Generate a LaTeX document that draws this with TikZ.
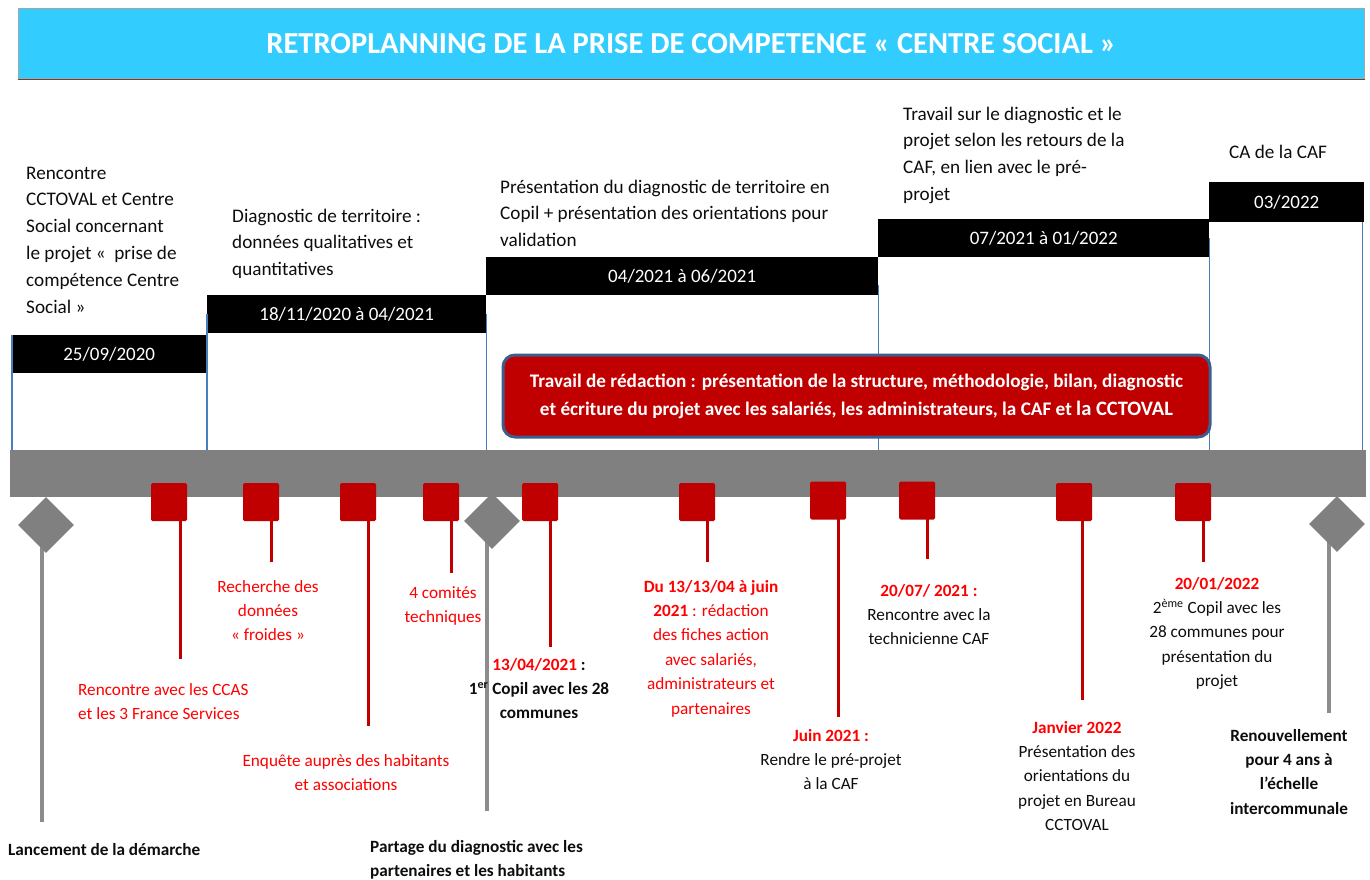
\documentclass[tikz,border=0pt]{standalone}
\usepackage{fontspec}
\setmainfont{Carlito}
\usetikzlibrary{shapes.geometric}
\definecolor{cyanhdr}{HTML}{33CCFF}
\definecolor{darkred}{HTML}{C00000}
\definecolor{brightred}{HTML}{FF0000}
\definecolor{bargray}{HTML}{808080}
\definecolor{stemgray}{HTML}{8C8C8C}
\definecolor{lineblue}{HTML}{4A7EBB}
\definecolor{boxborder}{HTML}{3B5E8C}
\definecolor{txt}{HTML}{0D0D0D}
\begin{document}
\begin{tikzpicture}[x=1pt,y=-1pt,
 toptxt/.style={font=\fontsize{19.2}{26.8}\selectfont, text=txt, align=left, anchor=base west, inner sep=0},
 bottxt/.style={font=\fontsize{17.2}{24.4}\selectfont, align=center, anchor=base, inner sep=0},
 bottb/.style={font=\fontsize{17.2}{24.4}\selectfont\bfseries, align=center, anchor=base, inner sep=0, text=txt},
 datebar/.style={fill=black, text=white, font=\fontsize{19}{22}\selectfont, inner sep=0, anchor=north west},
 sq/.style={fill=darkred, minimum width=36, minimum height=38, inner sep=0, rounded corners=1.5},
 dmd/.style={diamond, fill=bargray, minimum size=56, inner sep=0, aspect=1},
 redstem/.style={draw=darkred, line width=3},
 graystem/.style={draw=stemgray, line width=4},
 blueline/.style={draw=lineblue, line width=1.4},
]
\useasboundingbox (0,0) rectangle (1370,880);

% header
\fill[black!70] (18,10) rectangle (1364.5,79.8);
\node[fill=cyanhdr, draw=black!35, line width=0.6, minimum width=1346, minimum height=70, anchor=north west, inner sep=0,
      text=white, font=\bfseries\fontsize{30.5}{34}\selectfont] (hdr) at (18,8)
      {RETROPLANNING DE LA PRISE DE COMPETENCE « CENTRE SOCIAL »};

% top texts (anchor = baseline of last line)
\node[toptxt] (t1) at (26,313) {Rencontre\\CCTOVAL et Centre\\Social concernant\\le projet «~ prise de\\compétence Centre\\Social »};
\begin{scope}
\clip (220,190) rectangle (480,277);
\node[toptxt] (t2) at (232,275.6) {Diagnostic de territoire :\\données qualitatives et\\quantitatives};
\end{scope}
\node[toptxt] (t3) at (500,246.6) {Présentation du diagnostic de territoire en\\Copil + présentation des orientations pour\\validation};
\node[toptxt] (t4) at (903,200.4) {Travail sur le diagnostic et le\\projet selon les retours de la\\CAF, en lien avec le pré-\\projet};
\node[toptxt] (t5) at (1229,158) {CA de la CAF};

% date bars
\node[datebar, minimum width=194, minimum height=38] (b1) at (12,335) {25/09/2020};
\node[datebar, minimum width=279, minimum height=38] (b2) at (207,295) {18/11/2020 à 04/2021};
\node[datebar, minimum width=392, minimum height=38] (b3) at (486,257) {04/2021 à 06/2021};
\node[datebar, minimum width=331, minimum height=38] (b4) at (878,219) {07/2021 à 01/2022};
\node[datebar, minimum width=155, minimum height=40] (b5) at (1209,182) {03/2022};

% timeline bar
\node[fill=bargray, minimum width=1356, minimum height=47, anchor=north west, inner sep=0] (tl) at (10,450) {};

% blue lines
\draw[blueline] (b1.north west) -- (b1.north west |- tl.north);
\draw[blueline] (b2.west) -- (b2.west |- tl.north);
\draw[blueline] (b2.east) -- (b2.east |- tl.north);
\draw[blueline] ([yshift=-9]b3.east) -- (b3.east |- tl.north);
\draw[blueline] (b4.east) -- (b4.east |- tl.north);
\draw[blueline] ([xshift=-2]b5.south east) -- ([xshift=-2]b5.south east |- tl.north);

% red box
\node[fill=darkred, draw=boxborder, line width=3, rounded corners=12, minimum width=707, minimum height=82,
      anchor=north west, text=white, font=\bfseries\fontsize{19.2}{28}\selectfont, align=center, inner sep=0] (rb) at (501.5,353.5)
      {Travail de rédaction : présentation de la structure, méthodologie, bilan, diagnostic\\et écriture du projet avec les salariés, les administrateurs, la CAF et {\fontsize{20.5}{28}\selectfont la CCTOVAL}};

% stem end points
\coordinate (e1) at (180,659);
\coordinate (e2) at (271,562);
\coordinate (e3) at (368,726);
\coordinate (e4) at (451,573);
\coordinate (e5) at (550,647);
\coordinate (e6) at (707,562);
\coordinate (e7) at (838,717);
\coordinate (e8) at (927,559);
\coordinate (e9) at (1082,700);
\coordinate (e10) at (1203,562);
\coordinate (f1) at (42,822);
\coordinate (f2) at (487,811);
\coordinate (f3) at (1329,713);

% square centres
\coordinate (c1) at (169,502);
\coordinate (c2) at (261,502);
\coordinate (c3) at (358,502);
\coordinate (c4) at (441,502);
\coordinate (c5) at (540,502);
\coordinate (c6) at (697,502);
\coordinate (c7) at (828,500.5);
\coordinate (c8) at (917,500.5);
\coordinate (c9) at (1074,502);
\coordinate (c10) at (1193,502);

% stems
\foreach \i in {1,...,10} {\draw[redstem] (c\i -| e\i) -- (e\i);}
\coordinate (g1) at (46,525);
\coordinate (g2) at (492,521);
\coordinate (g3) at (1337,524);
\foreach \i in {1,2,3} {\draw[graystem] (g\i -| f\i) -- (f\i);}

% squares
\foreach \i in {1,...,10} {\node[sq] (s\i) at (c\i) {};}
% diamonds
\foreach \i in {1,2,3} {\node[dmd] (d\i) at (g\i) {};}

% bottom labels (anchor = baseline of last line)
\node[bottxt, text=brightred] (l2) at (268,640.8) {Recherche des\\données\\« froides »};
\node[bottxt, text=brightred, align=left, anchor=base west] (l1) at (78,719.4) {Rencontre avec les CCAS\\et les 3 France Services};
\node[bottxt, text=brightred] (l4) at (443,622.4) {4 comités\\techniques};
\node[bottxt, text=brightred] (l3) at (346,790.4) {Enquête auprès des habitants\\et associations};
\node[bottb] (l5) at (539,718.8) {\textcolor{brightred}{13/04/2021} :\\1\textsuperscript{er} Copil avec les 28\\communes};
\node[bottxt, text=brightred] (l6) at (711,714) {\textbf{Du 13/13/04 à juin}\\\textbf{2021} : rédaction\\des fiches action\\avec salariés,\\administrateurs et\\partenaires};
\node[bottxt, text=txt] (l7) at (831,789.8) {\textcolor{brightred}{\textbf{Juin 2021 :}}\\Rendre le pré-projet\\à la CAF};
\node[bottxt, text=txt] (l8) at (929,644.8) {\textcolor{brightred}{\textbf{20/07/ 2021 :}}\\Rencontre avec la\\technicienne CAF};
\node[bottxt, text=txt] (l9) at (1077,830.6) {\textcolor{brightred}{\textbf{Janvier 2022}}\\Présentation des\\orientations du\\projet en Bureau\\CCTOVAL};
\node[bottxt, text=txt] (l10) at (1217,686.6) {\textcolor{brightred}{\textbf{20/01/2022}}\\2\textsuperscript{ème} Copil avec les\\28 communes pour\\présentation du\\projet};
\node[bottb, anchor=base west] (m1) at (8,855) {Lancement de la démarche};
\node[bottb, anchor=base west, align=left] (m2) at (370,876.4) {Partage du diagnostic avec les\\partenaires et les habitants};
\node[bottb] (m3) at (1289,814.2) {Renouvellement\\pour 4 ans à\\l’échelle\\intercommunale};
\end{tikzpicture}
\end{document}
